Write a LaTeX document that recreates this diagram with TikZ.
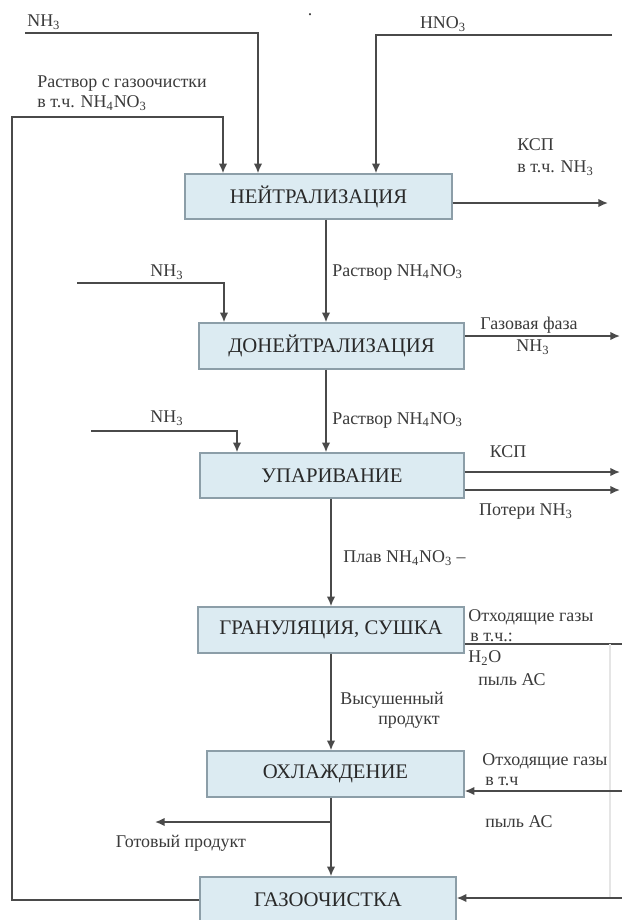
\documentclass[tikz,border=0pt]{standalone}
\usepackage{fontspec}
\setmainfont{Liberation Serif}
\usetikzlibrary{arrows.meta}
\definecolor{fillblu}{HTML}{DCEBF2}
\definecolor{bordo}{HTML}{8C9EA8}
\definecolor{linea}{HTML}{4A4A4A}
\definecolor{testo}{HTML}{3A3A3A}
\tikzset{
  blocco/.style={draw=bordo, fill=fillblu, line width=0.8pt, inner sep=0pt,
    text=testo!70!black, font=\fontsize{11.8}{13}\selectfont},
  etich/.style={inner sep=0pt, text=testo, font=\fontsize{10.2}{12}\selectfont},
  flusso/.style={draw=linea, line width=0.9pt, -{Latex[length=5.5pt,width=4.8pt]}},
  tubo/.style={draw=linea, line width=0.9pt},
}
\newcommand{\NHtre}{NH\textsubscript{3}}
\newcommand{\nitrato}{NH\textsubscript{4}NO\textsubscript{3}}
\begin{document}
\begin{tikzpicture}[x=0.02cm,y=-0.02cm]
    \clip (0,0) rectangle (622,920);
    \fill[white] (0,0) rectangle (622,920);
    %blocchi
    \node[blocco, minimum width=5.34cm, minimum height=0.9cm] (neutr) at (318.5,196.5) {НЕЙТРАЛИЗАЦИЯ};
    \node[blocco, minimum width=5.3cm, minimum height=0.92cm] (doneutr) at (331.5,346) {ДОНЕЙТРАЛИЗАЦИЯ};
    \node[blocco, minimum width=5.28cm, minimum height=0.9cm] (upar) at (332,475.5) {УПАРИВАНИЕ};
    \node[blocco, minimum width=5.32cm, minimum height=0.92cm] (gran) at (331,630) {ГРАНУЛЯЦИЯ, СУШКА};
    \node[blocco, minimum width=5.14cm, minimum height=0.92cm] (ohl) at (335.5,774) {ОХЛАЖДЕНИЕ};
    \node[blocco, minimum width=5.12cm, minimum height=0.92cm] (gazoch) at (328,900) {ГАЗООЧИСТКА};
    \node[etich] (punto) at (310,15) {.};
    %linea principale
    \coordinate (m1) at (326,0);
    \coordinate (m2) at (331,0);
    \draw[flusso] (neutr.south -| m1) -- (doneutr.north -| m1);
    \node[etich, anchor=west] (rast1) at (332,272) {Раствор \nitrato};
    \draw[flusso] (doneutr.south -| m1) -- (upar.north -| m1);
    \node[etich, anchor=west] (rast2) at (332,420) {Раствор \nitrato};
    \draw[flusso] (upar.south -| m2) -- (gran.north -| m2);
    \node[etich, anchor=west] (plav) at (343,558) {Плав \nitrato{} –};
    \draw[flusso] (gran.south -| m2) -- (ohl.north -| m2);
    \node[etich, anchor=west] (vys) at (340,700) {Высушенный};
    \node[etich, anchor=west] (prod) at (378,722) {продукт};
    \draw[flusso] (ohl.south -| m2) -- (gazoch.north -| m2);
    %prodotto finito
    \coordinate (gp) at (155,822);
    \draw[flusso] (gp -| m2) -- (gp);
    \node[etich] (lgp) at (181,843) {Готовый продукт};
    %ingressi in alto
    \coordinate (nhA) at (25,33);
    \coordinate (nhAx) at (258,0);
    \draw[flusso] (nhA) -| (neutr.north -| nhAx);
    \node[etich, anchor=west] (lnhA) at (27,22) {\NHtre};
    \coordinate (hno) at (612,35);
    \coordinate (hnox) at (376,0);
    \draw[flusso] (hno) -| (neutr.north -| hnox);
    \node[etich] (lhno) at (443,24) {HNO\textsubscript{3}};
    %ricircolo dalla gazoochistka
    \coordinate (ric) at (12,117);
    \coordinate (ricx) at (223,0);
    \draw[flusso] (gazoch.west) -| (ric) -| (neutr.north -| ricx);
    \node[etich, anchor=west] (lric1) at (37,84) {Раствор с газоочистки};
    \node[etich, anchor=west] (lric2) at (37,103) {в т.ч. \nitrato};
    %uscita KSP
    \coordinate (ksp1) at (608,203);
    \draw[flusso] (neutr.east |- ksp1) -- (ksp1);
    \node[etich, anchor=west] (lksp1) at (517,145) {КСП};
    \node[etich, anchor=west] (lksp1b) at (517,168) {в т.ч. \NHtre};
    %donejtralizacija
    \coordinate (nhB) at (77,283);
    \coordinate (nhBx) at (224,0);
    \draw[flusso] (nhB) -| (doneutr.north -| nhBx);
    \node[etich] (lnhB) at (167,272) {\NHtre};
    \coordinate (gf) at (620,336);
    \draw[flusso] (doneutr.east |- gf) -- (gf);
    \node[etich, anchor=west] (lgf) at (480,325) {Газовая фаза};
    \node[etich] (lgf2) at (533,347) {\NHtre};
    %uparivanie
    \coordinate (nhC) at (91,431);
    \coordinate (nhCx) at (237,0);
    \draw[flusso] (nhC) -| (upar.north -| nhCx);
    \node[etich] (lnhC) at (167,418) {\NHtre};
    \coordinate (ksp2) at (620,472);
    \coordinate (pot) at (620,490);
    \draw[flusso] (upar.east |- ksp2) -- (ksp2);
    \draw[flusso] (upar.east |- pot) -- (pot);
    \node[etich] (lksp2) at (508,452) {КСП};
    \node[etich] (lpot) at (526,512) {Потери \NHtre};
    %gas di scarico
    \coordinate (og) at (622,644);
    \draw[tubo] (gran.east |- og) -- (og);
    \coordinate (vs) at (610,644);
    \coordinate (vg) at (610,898);
    \draw[draw=gray!20, line width=0.6pt] (vs) -- (vg);
    \node[etich, anchor=west] (log1) at (468,617) {Отходящие газы};
    \node[etich, anchor=west] (log2) at (470,637) {в т.ч.:};
    \node[etich, anchor=west] (log3) at (468,658) {H\textsubscript{2}O};
    \node[etich, anchor=west] (log4) at (478,680) {пыль АС};
    \coordinate (oh) at (622,791);
    \draw[flusso] (oh) -- (ohl.east |- oh);
    \node[etich, anchor=west] (loh1) at (482,761) {Отходящие газы};
    \node[etich, anchor=west] (loh2) at (485,782) {в т.ч};
    \node[etich, anchor=west] (loh3) at (485,822) {пыль АС};
    \coordinate (gz) at (622,898);
    \draw[flusso] (gz) -- (gazoch.east |- gz);
\end{tikzpicture}
\end{document}
